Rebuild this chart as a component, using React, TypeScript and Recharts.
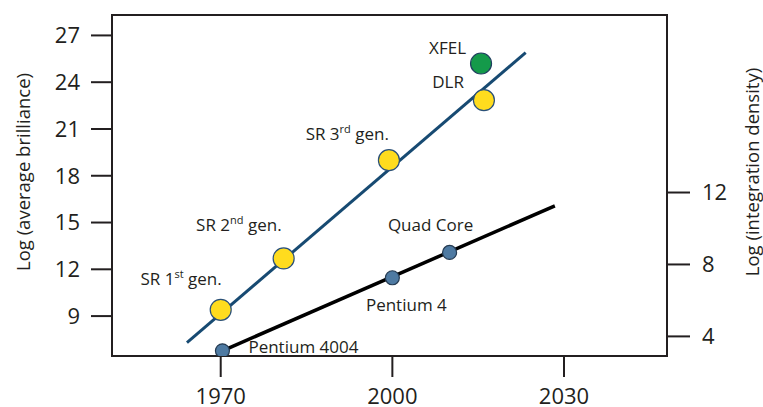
import { ComposedChart, Line, Scatter, XAxis, YAxis, ReferenceArea } from 'recharts'

// light sources (left axis, log average brilliance)
const sources = [
  { name: 'SR 1st gen.', year: 1970, value: 9.4 },
  { name: 'SR 2nd gen.', year: 1981, value: 12.7 },
  { name: 'SR 3rd gen.', year: 1999.4, value: 19.0 },
  { name: 'DLR', year: 2016, value: 22.85 },
]
const xfel = [{ name: 'XFEL', year: 2015.5, value: 25.2 }]
const brillianceTrend = [
  { year: 1964.1, value: 7.3 },
  { year: 2023.3, value: 25.9 },
]

// chips (right axis, log integration density)
const chips = [
  { name: 'Pentium 4004', year: 1970.3, value: 3.2 },
  { name: 'Pentium 4', year: 2000, value: 7.26 },
  { name: 'Quad Core', year: 2010, value: 8.67 },
]
const densityTrend = [
  { year: 1970.3, value: 3.2 },
  { year: 2028.4, value: 11.26 },
]

const yearTicks = [1970, 2000, 2030]
const brillianceTicks = [9, 12, 15, 18, 21, 24, 27]
const densityTicks = [4, 8, 12]

const INK = '#231f20'
const FONT = '"Open Sans", sans-serif'

// label placement relative to the marker centre
const labelPos: Record<string, { anchor: 'start' | 'middle' | 'end'; dx: number; dy: number }> = {
  'SR 1st gen.': { anchor: 'end', dx: 1, dy: -25 },
  'SR 2nd gen.': { anchor: 'end', dx: -2, dy: -27 },
  'SR 3rd gen.': { anchor: 'end', dx: 0, dy: -20 },
  DLR: { anchor: 'end', dx: -20, dy: -12 },
  XFEL: { anchor: 'end', dx: -15, dy: -9 },
  'Pentium 4004': { anchor: 'start', dx: 26, dy: 2 },
  'Pentium 4': { anchor: 'middle', dx: 14, dy: 33 },
  'Quad Core': { anchor: 'middle', dx: -19, dy: -21 },
}

function PointLabel({ cx, cy, name }: { cx: number; cy: number; name: string }) {
  const p = labelPos[name] ?? { anchor: 'start', dx: 10, dy: 0 }
  const m = name.match(/^(.*\d)(st|nd|rd|th)(.*)$/)
  return (
    <text x={cx + p.dx} y={cy + p.dy} textAnchor={p.anchor} fontSize={17} fontFamily={FONT} fill={INK}>
      {m ? (
        <>
          <tspan>{m[1]}</tspan>
          <tspan fontSize={11} dy={-7}>{m[2]}</tspan>
          <tspan dy={7}>{m[3]}</tspan>
        </>
      ) : (
        name
      )}
    </text>
  )
}

const marker = (fill: string, stroke: string, r: number) => (props: any) => (
  <g>
    <circle cx={props.cx} cy={props.cy} r={r} fill={fill} stroke={stroke} strokeWidth={1.2} />
    <PointLabel cx={props.cx} cy={props.cy} name={props.payload.name} />
  </g>
)

const axisTitle = (text: string, dxFromLeft: number) => (props: any) => {
  const vb = props.viewBox
  const x = vb.x + dxFromLeft
  const y = 172
  return (
    <text
      x={x}
      y={y}
      transform={`rotate(-90, ${x}, ${y})`}
      textAnchor="middle"
      dominantBaseline="central"
      fontSize={18.5}
      fontFamily={FONT}
      fill={INK}
    >
      {text}
    </text>
  )
}

const tickStyle = { fill: INK, fontSize: 22, fontFamily: FONT }
const tickLineStyle = { stroke: INK, strokeWidth: 2 }

export default function App() {
  return (
    <div style={{ position: 'absolute', left: 0, top: 0, background: '#fff' }}>
      <ComposedChart width={763} height={407} margin={{ top: 15, right: 0, bottom: 0, left: 0 }}>
        <XAxis
          dataKey="year"
          type="number"
          domain={[1951, 2048]}
          ticks={yearTicks}
          allowDataOverflow
          height={51}
          tickSize={21}
          tickMargin={11}
          axisLine={false}
          tickLine={tickLineStyle}
          tick={tickStyle}
        />
        <YAxis
          yAxisId="left"
          type="number"
          domain={[6.44, 28.31]}
          ticks={brillianceTicks}
          allowDataOverflow
          width={112}
          tickSize={21}
          tickMargin={11}
          axisLine={false}
          tickLine={tickLineStyle}
          tick={tickStyle}
          label={{ content: axisTitle('Log (average brilliance)', 22) }}
        />
        <YAxis
          yAxisId="right"
          orientation="right"
          type="number"
          domain={[2.91, 21.87]}
          ticks={densityTicks}
          allowDataOverflow
          width={96}
          tickSize={23}
          tickMargin={12}
          axisLine={false}
          tickLine={tickLineStyle}
          tick={tickStyle}
          label={{ content: axisTitle('Log (integration density)', 84) }}
        />
        <ReferenceArea
          yAxisId="left"
          x1={1951}
          x2={2048}
          y1={6.44}
          y2={28.31}
          fill="none"
          stroke={INK}
          strokeWidth={2}
          fillOpacity={0}
        />
        <Line
          yAxisId="left"
          data={brillianceTrend}
          dataKey="value"
          stroke="#174a72"
          strokeWidth={3}
          dot={false}
          isAnimationActive={false}
        />
        <Line
          yAxisId="right"
          data={densityTrend}
          dataKey="value"
          stroke="#000"
          strokeWidth={3.5}
          dot={false}
          isAnimationActive={false}
        />
        <Scatter
          yAxisId="left"
          data={sources}
          dataKey="value"
          shape={marker('#ffdc1e', '#2a5078', 10.5)}
          isAnimationActive={false}
        />
        <Scatter
          yAxisId="left"
          data={xfel}
          dataKey="value"
          shape={marker('#149a4a', '#1f3f5f', 10.5)}
          isAnimationActive={false}
        />
        <Scatter
          yAxisId="right"
          data={chips}
          dataKey="value"
          shape={marker('#4e7aa2', '#253b52', 7)}
          isAnimationActive={false}
        />
      </ComposedChart>
    </div>
  )
}
